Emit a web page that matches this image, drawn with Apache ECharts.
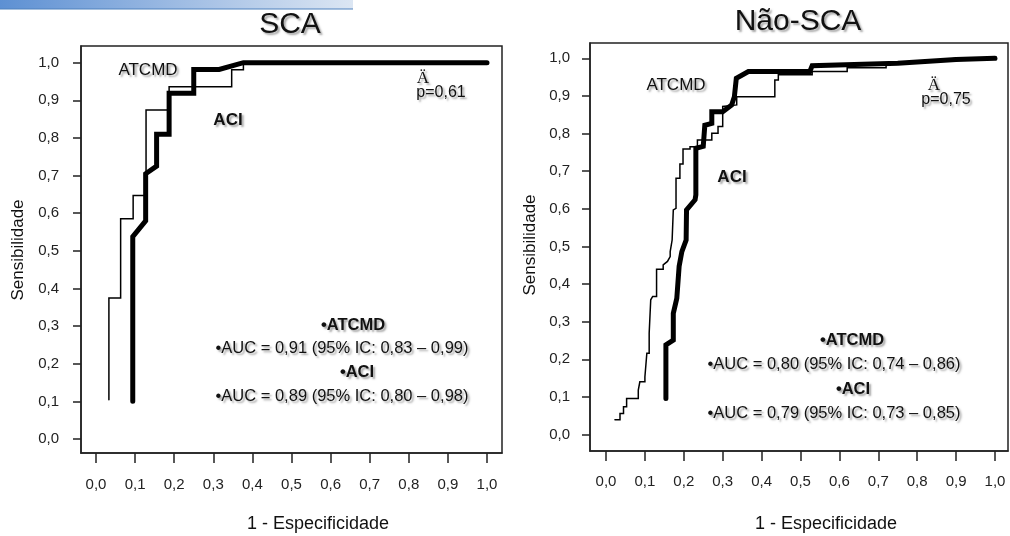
<!DOCTYPE html>
<html>
<head>
<meta charset="utf-8">
<script src="https://cdn.jsdelivr.net/npm/echarts@6/dist/echarts.min.js"></script>
<style>
html,body{margin:0;padding:0;background:#fff;}
#chart{width:1010px;height:536px;}
</style>
</head>
<body>
<div id="chart"></div>
<script>
// SCA - ATCMD (linha fina)
var scaAtcmdX = [0.033, 0.033, 0.063, 0.063, 0.095, 0.095, 0.128, 0.128, 0.187, 0.187, 0.347, 0.347, 0.377, 0.377, 1.0];
var scaAtcmdY = [0.104, 0.375, 0.375, 0.585, 0.585, 0.647, 0.647, 0.874, 0.874, 0.936, 0.936, 0.981, 0.981, 1.0, 1.0];
// SCA - ACI (linha grossa)
var scaAciX = [0.094, 0.094, 0.127, 0.127, 0.155, 0.155, 0.187, 0.187, 0.25, 0.25, 0.315, 0.377, 1.0];
var scaAciY = [0.10, 0.538, 0.58, 0.705, 0.725, 0.81, 0.81, 0.919, 0.919, 0.982, 0.982, 1.0, 1.0];

// Nao-SCA - ATCMD
var nscaAtcmdX = [0.023, 0.036, 0.036, 0.045, 0.045, 0.053, 0.053, 0.083, 0.083, 0.087, 0.087, 0.100, 0.100, 0.105, 0.105, 0.111, 0.111, 0.115, 0.115, 0.120, 0.120, 0.130, 0.130, 0.147, 0.147, 0.158, 0.165, 0.165, 0.170, 0.170, 0.173, 0.173, 0.180, 0.180, 0.190, 0.190, 0.198, 0.198, 0.216, 0.216, 0.235, 0.235, 0.272, 0.272, 0.288, 0.288, 0.300, 0.300, 0.336, 0.336, 0.434, 0.434, 0.443, 0.443, 0.53, 0.53, 0.62, 0.62, 0.72, 0.72, 0.82, 0.90, 1.0];
var nscaAtcmdY = [0.039, 0.039, 0.056, 0.056, 0.074, 0.074, 0.096, 0.096, 0.118, 0.118, 0.140, 0.140, 0.153, 0.153, 0.216, 0.216, 0.269, 0.269, 0.358, 0.358, 0.367, 0.367, 0.439, 0.439, 0.451, 0.460, 0.473, 0.486, 0.486, 0.517, 0.517, 0.597, 0.601, 0.681, 0.681, 0.719, 0.719, 0.759, 0.759, 0.765, 0.765, 0.783, 0.783, 0.801, 0.801, 0.819, 0.819, 0.872, 0.876, 0.898, 0.898, 0.942, 0.942, 0.956, 0.956, 0.965, 0.965, 0.975, 0.975, 0.985, 0.99, 1.0, 1.0];
// Nao-SCA - ACI
var nscaAciX = [0.154, 0.154, 0.173, 0.173, 0.182, 0.188, 0.195, 0.206, 0.207, 0.229, 0.231, 0.231, 0.231, 0.25, 0.254, 0.272, 0.272, 0.300, 0.323, 0.33, 0.335, 0.366, 0.524, 0.53, 0.75, 0.9, 1.0];
var nscaAciY = [0.096, 0.238, 0.251, 0.322, 0.362, 0.447, 0.486, 0.517, 0.597, 0.624, 0.637, 0.677, 0.761, 0.766, 0.822, 0.827, 0.858, 0.858, 0.876, 0.898, 0.947, 0.965, 0.965, 0.98, 0.987, 0.997, 1.0];

var tickValues = [0, 0.1, 0.2, 0.3, 0.4, 0.5, 0.6, 0.7, 0.8, 0.9, 1.0];
var panelTitles = ["SCA", "Não-SCA"];
var pValues = ["p=0,61", "p=0,75"];
var aucAtcmd = ["•AUC = 0,91 (95% IC: 0,83 – 0,99)", "•AUC = 0,80 (95% IC: 0,74 – 0,86)"];
var aucAci = ["•AUC = 0,89 (95% IC: 0,80 – 0,98)", "•AUC = 0,79 (95% IC: 0,73 – 0,85)"];

var FONT = "Liberation Sans";
var SHADOW = "rgba(0,0,0,0.35)";

function pairs(xs, ys) {
	var out = [];
	for (var i = 0; i < xs.length; i++) out.push([xs[i], ys[i]]);
	return out;
}

function fmt(v) {
	return (+v).toFixed(1).replace(".", ",");
}

function txt(s, x, y, size, weight, extra) {
	var st = {
		text: s,
		x: x,
		y: y,
		font: (weight || "normal") + " " + size + "px '" + FONT + "'",
		fill: "#111",
		textAlign: "center",
		textVerticalAlign: "middle"
	};
	if (!extra || !extra.noShadow) {
		st.textShadowColor = SHADOW;
		st.textShadowBlur = 2;
		st.textShadowOffsetX = 2;
		st.textShadowOffsetY = 2;
	}
	var el = { type: "text", silent: true, style: st };
	if (extra && extra.rotation) {
		el.rotation = extra.rotation;
		el.x = x; el.y = y;
		st.x = 0; st.y = 0;
	}
	if (extra && extra.serif) st.font = "normal " + size + "px 'Liberation Serif'";
	return el;
}

// eixo com margem interna: o quadro fica um pouco fora de 0 e 1
function axis(g, min, max, tickLen, margin) {
	return {
		type: "value", gridIndex: g, min: min, max: max,
		axisLine: { show: true, onZero: false, lineStyle: { color: "#222", width: 1.5 } },
		splitLine: { show: false },
		axisTick: { show: true, customValues: tickValues, length: tickLen, lineStyle: { color: "#222", width: 1.5 } },
		axisLabel: { customValues: tickValues, formatter: fmt, fontSize: 15, color: "#222", fontFamily: FONT, margin: margin }
	};
}

function curve(data, idx, width) {
	return {
		type: "line", xAxisIndex: idx, yAxisIndex: idx, data: data,
		symbol: "none", showSymbol: false, silent: true,
		lineStyle: { color: "#000", width: width, cap: "round", join: "miter" }
	};
}

var chart = echarts.init(document.getElementById("chart"), null, { renderer: "canvas" });

var option = {
	animation: false,
	backgroundColor: "#fff",
	grid: [
		{ left: 81, top: 46, width: 421, height: 407, show: true, borderColor: "#222", borderWidth: 1.5, containLabel: false },
		{ left: 590, top: 43, width: 418, height: 408, show: true, borderColor: "#222", borderWidth: 1.5, containLabel: false }
	],
	xAxis: [
		axis(0, -15 / 391, 1 + 15 / 391, 10, 24),
		axis(1, -16 / 389, 1 + 13 / 389, 10, 23)
	],
	yAxis: [
		axis(0, -14 / 376.3, 1 + 16.7 / 376.3, 8, 22),
		axis(1, -16.5 / 376.2, 1 + 15.3 / 376.2, 8, 20)
	],
	series: [
		curve(pairs(scaAtcmdX, scaAtcmdY), 0, 1.5),
		curve(pairs(scaAciX, scaAciY), 0, 5),
		curve(pairs(nscaAtcmdX, nscaAtcmdY), 1, 1.5),
		curve(pairs(nscaAciX, nscaAciY), 1, 5)
	],
	graphic: [
		{
			type: "rect", silent: true,
			shape: { x: 0, y: 0, width: 353, height: 9 },
			style: {
				fill: new echarts.graphic.LinearGradient(0, 0, 1, 0, [
					{ offset: 0, color: "#5d90d3" },
					{ offset: 0.5, color: "#9dbbe3" },
					{ offset: 1, color: "#dce6f3" }
				])
			}
		},
		{ type: "line", silent: true, shape: { x1: 0, y1: 9, x2: 353, y2: 9 }, style: { stroke: "#4f81bd", lineWidth: 1 } },

		txt(panelTitles[0], 290, 25, 30),
		txt(panelTitles[1], 798, 22, 30),

		txt("Sensibilidade", 18, 250, 17, "normal", { rotation: Math.PI / 2, noShadow: true }),
		txt("Sensibilidade", 530, 245, 17, "normal", { rotation: Math.PI / 2, noShadow: true }),
		txt("1 - Especificidade", 318, 524, 18, "normal", { noShadow: true }),
		txt("1 - Especificidade", 826, 524, 18, "normal", { noShadow: true }),

		// SCA anotacoes
		txt("ATCMD", 148, 70, 17),
		txt("ACI", 228, 120, 17, "bold"),
		txt("Ä", 423, 79, 17, "normal", { serif: true }),
		txt(pValues[0], 441, 93, 16),
		txt("•ATCMD", 353, 325, 16.5, "bold"),
		txt(aucAtcmd[0], 342, 348, 16.5),
		txt("•ACI", 357, 372, 16.5, "bold"),
		txt(aucAci[0], 342, 396, 16.5),

		// Nao-SCA anotacoes
		txt("ATCMD", 676, 85, 17),
		txt("ACI", 732, 177, 17, "bold"),
		txt("Ä", 934, 86, 17, "normal", { serif: true }),
		txt(pValues[1], 946, 100, 16),
		txt("•ATCMD", 852, 340, 16.5, "bold"),
		txt(aucAtcmd[1], 834, 364, 16.5),
		txt("•ACI", 853, 389, 16.5, "bold"),
		txt(aucAci[1], 834, 413, 16.5)
	]
};

chart.setOption(option);
</script>
</body>
</html>
